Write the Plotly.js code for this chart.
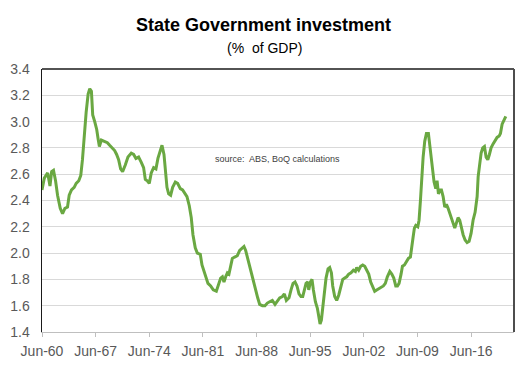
<!DOCTYPE html>
<html>
<head>
<meta charset="utf-8">
<script src="https://cdn.plot.ly/plotly-3.0.1.min.js"></script>
<style>html,body{margin:0;padding:0;background:#fff;}#chart{width:531px;height:369px;}</style>
</head>
<body>
<div id="chart"></div>
<script>
// Decimal-year positions of the readings (quarterly series, Jun-60 to Dec-20)
const years = [
1960.50,1960.80,1961.24,1961.54,1961.76,1962.00,1962.27,1962.53,1962.88,1963.18,
1963.49,1963.83,1964.05,1964.35,1964.70,1964.96,1965.30,1965.56,1965.78,1966.00,
1966.26,1966.52,1966.73,1966.95,1967.12,1967.38,1967.64,1967.82,1967.99,1968.25,
1968.68,1969.03,1969.33,1969.63,1969.98,1970.24,1970.50,1970.76,1971.02,1971.37,
1971.72,1972.15,1972.46,1972.76,1973.11,1973.46,1973.76,1973.98,1974.24,1974.50,
1974.76,1975.07,1975.37,1975.63,1975.89,1976.16,1976.42,1976.59,1976.81,1977.03,
1977.29,1977.55,1977.90,1978.20,1978.55,1978.85,1979.11,1979.42,1979.72,1979.98,
1980.20,1980.50,1980.77,1981.16,1981.38,1981.64,1981.90,1982.16,1982.51,1982.85,
1983.25,1983.51,1983.82,1984.04,1984.25,1984.47,1984.69,1984.90,1985.12,1985.34,
1985.64,1985.99,1986.30,1986.65,1986.86,1987.08,1987.34,1987.60,1987.86,1988.12,
1988.39,1988.65,1988.91,1989.26,1989.60,1989.91,1990.21,1990.56,1990.91,1991.21,
1991.52,1991.87,1992.13,1992.39,1992.74,1993.00,1993.26,1993.52,1993.78,1994.04,
1994.30,1994.53,1994.74,1994.96,1995.18,1995.31,1995.53,1995.74,1995.92,1996.18,
1996.44,1996.61,1996.79,1996.96,1997.14,1997.35,1997.57,1997.83,1998.05,1998.27,
1998.44,1998.70,1998.96,1999.22,1999.53,1999.75,2000.01,2000.27,2000.53,2000.83,
2001.14,2001.40,2001.57,2001.83,2002.09,2002.36,2002.62,2002.88,2003.14,2003.40,
2003.66,2003.92,2004.18,2004.44,2004.75,2005.05,2005.31,2005.57,2005.89,2006.15,
2006.41,2006.67,2006.89,2007.10,2007.36,2007.54,2007.80,2008.06,2008.32,2008.58,
2008.76,2008.93,2009.10,2009.28,2009.54,2009.71,2009.89,2010.06,2010.24,2010.45,
2010.67,2010.93,2011.10,2011.28,2011.45,2011.67,2011.89,2012.06,2012.24,2012.41,
2012.63,2012.85,2013.06,2013.28,2013.50,2013.72,2013.93,2014.15,2014.37,2014.59,
2014.80,2015.02,2015.24,2015.46,2015.72,2015.98,2016.24,2016.50,2016.76,2017.02,
2017.29,2017.42,2017.59,2017.81,2018.02,2018.24,2018.46,2018.68,2018.89,2019.11,
2019.37,2019.63,2019.89,2020.16,2020.33,2020.55,2020.77,2021.03
];
// State Government investment, % of GDP
const investment = [
2.48,2.57,2.61,2.51,2.62,2.63,2.55,2.44,2.34,2.30,
2.34,2.35,2.44,2.48,2.50,2.53,2.55,2.59,2.71,2.89,
3.07,3.21,3.25,3.23,3.05,3.00,2.94,2.87,2.81,2.86,
2.85,2.84,2.82,2.80,2.78,2.75,2.71,2.64,2.62,2.67,
2.73,2.76,2.75,2.72,2.73,2.69,2.65,2.56,2.55,2.53,
2.61,2.65,2.64,2.72,2.78,2.82,2.75,2.63,2.50,2.45,
2.44,2.50,2.54,2.53,2.49,2.48,2.46,2.43,2.36,2.27,
2.14,2.04,2.00,1.99,1.91,1.86,1.81,1.77,1.75,1.72,
1.71,1.75,1.81,1.82,1.78,1.82,1.85,1.84,1.90,1.96,
1.97,1.98,2.02,2.04,2.05,2.02,1.96,1.89,1.82,1.76,
1.71,1.66,1.61,1.60,1.60,1.62,1.63,1.64,1.61,1.64,
1.66,1.67,1.69,1.64,1.66,1.72,1.77,1.78,1.75,1.69,
1.67,1.67,1.71,1.77,1.78,1.72,1.78,1.80,1.72,1.63,
1.58,1.53,1.46,1.49,1.58,1.68,1.81,1.88,1.89,1.85,
1.75,1.67,1.64,1.68,1.76,1.80,1.81,1.82,1.84,1.85,
1.87,1.86,1.89,1.87,1.90,1.91,1.90,1.87,1.84,1.78,
1.75,1.71,1.72,1.73,1.74,1.75,1.77,1.82,1.86,1.84,
1.81,1.75,1.75,1.77,1.84,1.90,1.91,1.94,1.96,1.97,
2.07,2.12,2.19,2.21,2.20,2.25,2.40,2.58,2.73,2.85,
2.91,2.91,2.83,2.71,2.62,2.54,2.49,2.55,2.45,2.48,
2.48,2.43,2.35,2.37,2.34,2.30,2.26,2.22,2.19,2.23,
2.27,2.25,2.19,2.14,2.10,2.08,2.09,2.15,2.25,2.31,
2.43,2.58,2.66,2.76,2.80,2.81,2.73,2.71,2.75,2.80,
2.83,2.86,2.88,2.89,2.91,2.98,3.01,3.04
];
const tickYears = [1960.5,1967.5,1974.5,1981.5,1988.5,1995.5,2002.5,2009.5,2016.5];
const tickLabels = ["Jun-60","Jun-67","Jun-74","Jun-81","Jun-88","Jun-95","Jun-02","Jun-09","Jun-16"];
const titleText = "State Government investment";
const subtitleText = "(%  of GDP)";
const sourceText = "source:  ABS, BoQ calculations";

const FONT = "Liberation Sans, Arial, sans-serif";

Plotly.newPlot("chart", [{
  x: years, y: investment, type: "scatter", mode: "lines",
  line: {color: "#6aa842", width: 3, shape: "linear"},
  hoverinfo: "skip"
}], {
  width: 531, height: 369,
  margin: {l: 42, r: 17, t: 69, b: 37, pad: 0},
  paper_bgcolor: "#fff", plot_bgcolor: "#fff",
  showlegend: false,
  font: {family: FONT, color: "#595959", size: 14},
  xaxis: {
    type: "linear", range: [1960.5, 2022.1],
    tickmode: "array", tickvals: tickYears, ticktext: tickLabels,
    ticks: "outside", ticklen: 4, tickcolor: "#bfbfbf", tickwidth: 1,
    showgrid: false, zeroline: false,
    showline: true, linecolor: "#bfbfbf", linewidth: 1,
    tickfont: {size: 14, color: "#595959"}, ticklabelstandoff: 2
  },
  yaxis: {
    range: [1.4, 3.4], dtick: 0.2, tick0: 1.4, tickformat: ".1f",
    ticks: "", showgrid: true, gridcolor: "#d9d9d9", gridwidth: 1,
    zeroline: false, showline: true, linecolor: "#1a1a1a", linewidth: 1.5,
    tickfont: {size: 14, color: "#595959"}, ticklabelstandoff: 8
  },
  shapes: [
    {type: "line", xref: "paper", yref: "paper", x0: 0, x1: 1, y0: 1, y1: 1, line: {color: "#1a1a1a", width: 1.5}},
    {type: "line", xref: "paper", yref: "paper", x0: 1, x1: 1, y0: 0, y1: 1, line: {color: "#4d4d4d", width: 2}}
  ],
  annotations: [
    {text: "<b>" + titleText + "</b>", xref: "paper", yref: "paper", x: 0.469, y: 1.1688,
     xanchor: "center", yanchor: "middle", showarrow: false, font: {family: FONT, size: 18, color: "#000"}},
    {text: subtitleText, xref: "paper", yref: "paper", x: 0.471, y: 1.0812,
     xanchor: "center", yanchor: "middle", showarrow: false, font: {family: FONT, size: 14, color: "#000"}},
    {text: sourceText, xref: "paper", yref: "paper", x: 0.3623, y: 0.658,
     xanchor: "left", yanchor: "middle", showarrow: false, font: {family: FONT, size: 9, color: "#404040"}}
  ]
}, {staticPlot: true, displayModeBar: false});
</script>
</body>
</html>
